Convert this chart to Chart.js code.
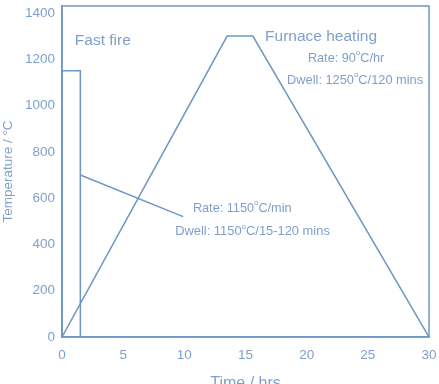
<!DOCTYPE html>
<html>
<head>
<meta charset="utf-8">
<script src="https://cdn.jsdelivr.net/npm/chart.js@4.4.0/dist/chart.umd.min.js"></script>
<style>
html, body { margin: 0; padding: 0; background: #fff; overflow: hidden; }
#wrap { width: 439px; height: 384px; overflow: hidden; }
</style>
</head>
<body>
<div id="wrap"><canvas id="firingChart" width="439" height="400"></canvas></div>
<script>
// Firing profiles (time in hrs, temperature in °C)
const fastFireTime = [0, 0, 1.5, 1.5];
const fastFireTemp = [0, 1150, 1150, 0];
const furnaceTime = [0, 13.5, 15.6, 30];
const furnaceTemp = [0, 1300, 1300, 0];
const pointerTime = [1.5, 9.9];
const pointerTemp = [700, 520];

// Axis ticks
const xTicks = [0, 5, 10, 15, 20, 25, 30];
const yTicks = [0, 200, 400, 600, 800, 1000, 1200, 1400];

// Text labels ("^o" = superscript degree)
const noteText = ['Fast fire', 'Furnace heating', 'Rate: 90^oC/hr', 'Dwell: 1250^oC/120 mins', 'Rate: 1150^oC/min', 'Dwell: 1150^oC/15-120 mins'];
const noteTime = [1.05, 16.6, 20.1, 18.4, 10.7, 9.25];
const noteTemp = [1280, 1296, 1205, 1110, 557, 454];
const noteSize = [15.5, 15.5, 12.7, 12.8, 12.7, 12.9];

const lineColor = '#6e96c4';
const textColor = '#7e9fcb';
const fontFamily = '"Liberation Sans", Arial, sans-serif';

const toPoints = (xs, ys) => xs.map((x, i) => ({ x: x, y: ys[i] }));

// Box around plot + text notes
const notesPlugin = {
    id: 'notes',
    afterDatasetsDraw(chart) {
        const { ctx, chartArea, scales } = chart;
        ctx.save();
        ctx.strokeStyle = lineColor;
        ctx.lineWidth = 1.5;
        ctx.strokeRect(chartArea.left, chartArea.top, chartArea.right - chartArea.left, chartArea.bottom - chartArea.top);

        ctx.fillStyle = textColor;
        ctx.textBaseline = 'middle';
        ctx.textAlign = 'left';
        noteText.forEach((txt, i) => {
            let x = scales.x.getPixelForValue(noteTime[i]);
            const y = scales.y.getPixelForValue(noteTemp[i]);
            const size = noteSize[i];
            const parts = txt.split('^o');
            parts.forEach((part, j) => {
                ctx.font = size + 'px ' + fontFamily;
                ctx.fillText(part, x, y);
                x += ctx.measureText(part).width;
                if (j < parts.length - 1) {
                    ctx.font = (size * 0.62) + 'px ' + fontFamily;
                    ctx.fillText('o', x, y - size * 0.38);
                    x += ctx.measureText('o').width;
                }
            });
        });
        ctx.restore();
    }
};

new Chart(document.getElementById('firingChart'), {
    type: 'scatter',
    data: {
        datasets: [
            { label: 'Fast fire', data: toPoints(fastFireTime, fastFireTemp) },
            { label: 'Furnace heating', data: toPoints(furnaceTime, furnaceTemp) },
            { label: 'Pointer', data: toPoints(pointerTime, pointerTemp) }
        ].map(ds => Object.assign(ds, {
            showLine: true,
            borderColor: lineColor,
            borderWidth: 1.5,
            pointRadius: 0,
            fill: false,
            tension: 0
        }))
    },
    options: {
        responsive: false,
        animation: false,
        layout: { padding: { top: 6, right: 10, left: 0, bottom: 0 } },
        plugins: {
            legend: { display: false },
            tooltip: { enabled: false }
        },
        scales: {
            x: {
                type: 'linear',
                min: 0,
                max: 30,
                afterFit: s => { s.height = 63; s.paddingLeft = 0; s.paddingRight = 0; },
                afterBuildTicks: s => { s.ticks = xTicks.map(v => ({ value: v })); },
                grid: { display: false, drawTicks: false },
                border: { color: lineColor, width: 1.5 },
                ticks: {
                    color: textColor,
                    padding: 10,
                    maxRotation: 0,
                    callback: v => String(v),
                    font: { family: fontFamily, size: 13.5 }
                },
                title: {
                    display: true,
                    text: 'Time / hrs',
                    color: textColor,
                    padding: { top: 0, bottom: 7 },
                    font: { family: fontFamily, size: 16 }
                }
            },
            y: {
                type: 'linear',
                min: 0,
                max: 1430,
                afterFit: s => { s.width = 62; s.paddingTop = 0; s.paddingBottom = 0; },
                afterBuildTicks: s => { s.ticks = yTicks.map(v => ({ value: v })); },
                grid: { display: false, drawTicks: false },
                border: { color: lineColor, width: 1.5 },
                ticks: {
                    color: textColor,
                    padding: 7,
                    callback: v => String(v),
                    font: { family: fontFamily, size: 13.5 }
                },
                title: {
                    display: true,
                    text: 'Temperature / °C',
                    color: textColor,
                    padding: 0,
                    font: { family: fontFamily, size: 13.5 }
                }
            }
        }
    },
    plugins: [notesPlugin]
});
</script>
</body>
</html>
